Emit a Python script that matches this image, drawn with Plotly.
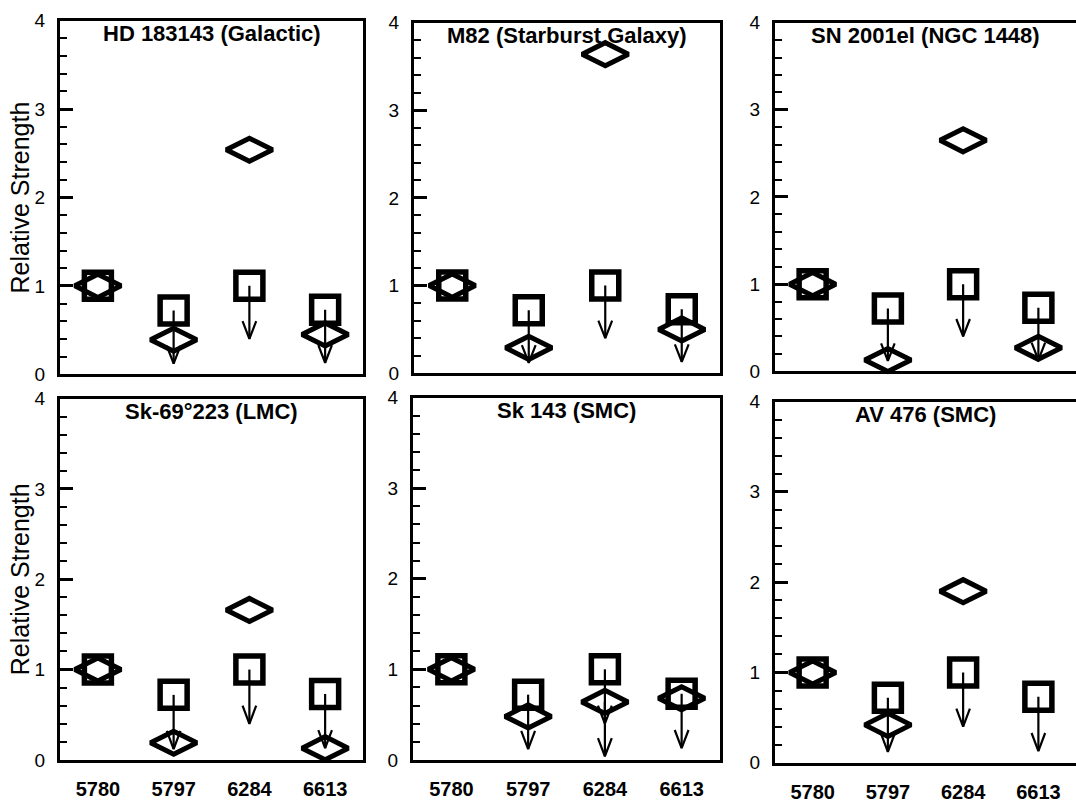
import plotly.graph_objects as go

# ---------------- data ----------------
bands = ["5780", "5797", "6284", "6613"]
titles = ["HD 183143 (Galactic)", "M82 (Starburst Galaxy)", "SN 2001el (NGC 1448)",
          "Sk-69°223 (LMC)", "Sk 143 (SMC)", "AV 476 (SMC)"]

# squares (same comparison set in every panel); True = upper limit (arrow)
square_vals = [1.0, 0.72, 1.0, 0.73]
square_limits = [False, True, True, True]

# diamonds, one list per sightline
hd183143 = [1.0, 0.39, 2.54, 0.45]
m82 = [1.0, 0.29, 3.64, 0.50]
sn2001el = [1.0, 0.13, 2.65, 0.27]
sk69223 = [1.0, 0.19, 1.66, 0.13]
sk143 = [1.0, 0.48, 0.64, 0.68]
av476 = [1.0, 0.42, 1.90, None]
diamond_sets = [hd183143, m82, sn2001el, sk69223, sk143, av476]
diamond_limits = [
    [False, False, False, False],
    [False, False, False, False],
    [False, False, False, False],
    [False, False, False, False],
    [False, False, True, False],
    [False, False, False, False],
]

# ---------------- layout geometry (pixels) ----------------
W, H = 1076, 804
col_px = [(60, 363), (414, 720), (775, 1076), (60, 363), (413, 720), (775, 1076)]
row_px = [(11, 374), (13, 373), (13, 371), (399, 770), (398, 770), (402, 773)]

ARROW_LEN = 0.6
HEAD_H = 0.2
HEAD_DX = 0.09

xpos = list(range(len(bands)))

fig = go.Figure()


def arrows(vals, limits):
    ax, ay = [], []
    for x, v, lim in zip(xpos, vals, limits):
        if lim and v is not None:
            end = v - ARROW_LEN
            ax += [x, x, None, x - HEAD_DX, x, x + HEAD_DX, None]
            ay += [v, end, None, end + HEAD_H, end, end + HEAD_H, None]
    return ax, ay


for i in range(6):
    xa = "x" if i == 0 else f"x{i+1}"
    ya = "y" if i == 0 else f"y{i+1}"
    dvals = diamond_sets[i]
    fig.add_trace(go.Scatter(
        x=xpos, y=square_vals, mode="markers", xaxis=xa, yaxis=ya,
        cliponaxis=False,
        marker=dict(symbol="square-open", size=27, color="black",
                    line=dict(width=5.5, color="black")),
        hoverinfo="skip"))
    fig.add_trace(go.Scatter(
        x=xpos, y=dvals, mode="markers", xaxis=xa, yaxis=ya,
        cliponaxis=False,
        marker=dict(symbol="diamond-wide-open", size=33, color="black",
                    line=dict(width=5, color="black")),
        hoverinfo="skip"))
    sx, sy = arrows(square_vals, square_limits)
    dx_, dy_ = arrows(dvals, diamond_limits[i])
    fig.add_trace(go.Scatter(
        x=sx + dx_, y=sy + dy_, mode="lines", xaxis=xa, yaxis=ya,
        cliponaxis=False,
        line=dict(color="black", width=2.2), hoverinfo="skip"))

layout = dict(
    width=W, height=H,
    margin=dict(l=0, r=0, t=0, b=0),
    paper_bgcolor="white", plot_bgcolor="white",
    showlegend=False,
    font=dict(family="Liberation Sans, Arial, sans-serif", color="black"),
)

annotations = []
for i in range(6):
    xk = "xaxis" if i == 0 else f"xaxis{i+1}"
    yk = "yaxis" if i == 0 else f"yaxis{i+1}"
    yref_name = "y" if i == 0 else f"y{i+1}"
    xref_name = "x" if i == 0 else f"x{i+1}"
    x0, x1 = col_px[i]
    t, b = row_px[i]
    right_col = (i % 3 == 2)
    bottom_row = i >= 3
    layout[xk] = dict(
        domain=[x0 / W, x1 / W], range=[-0.5, 3.5],
        anchor=yref_name,
        tickvals=xpos, ticktext=bands,
        showticklabels=bottom_row,
        ticks="", showgrid=False, zeroline=False,
        showline=True, linecolor="black", linewidth=3, mirror=True,
        tickfont=dict(size=20, weight="bold", family="Liberation Sans, Arial, sans-serif"),
        ticklabelstandoff=9,
    )
    layout[yk] = dict(
        domain=[1 - b / H, 1 - t / H], range=[0, 4],
        anchor=xref_name,
        tickvals=[0, 1, 2, 3, 4],
        ticks="inside", ticklen=13, tickwidth=2.5, tickcolor="black",
        minor=dict(dtick=0.2, ticks="inside", ticklen=7, tickwidth=1.5, tickcolor="black"),
        showgrid=False, zeroline=False,
        showline=True, linecolor="black", linewidth=3,
        mirror=(not right_col),
        tickfont=dict(size=19, family="Liberation Sans, Arial, sans-serif", color="black"),
        ticklabelstandoff=8,
    )
    annotations.append(dict(
        text=titles[i], xref="paper", yref="paper",
        x=(x0 + min(x1, 1078)) / 2 / W, y=1 - t / H,
        xanchor="center", yanchor="middle", yshift=-13,
        showarrow=False, font=dict(size=22, weight="bold")))
    if i % 3 == 0:
        annotations.append(dict(
            text="Relative Strength", xref="paper", yref="paper",
            x=20 / W, y=1 - (t + b) / 2 / H, textangle=-90,
            xanchor="center", yanchor="middle",
            showarrow=False, font=dict(size=25)))

layout["annotations"] = annotations
fig.update_layout(**layout)
fig.write_html("out.html")
